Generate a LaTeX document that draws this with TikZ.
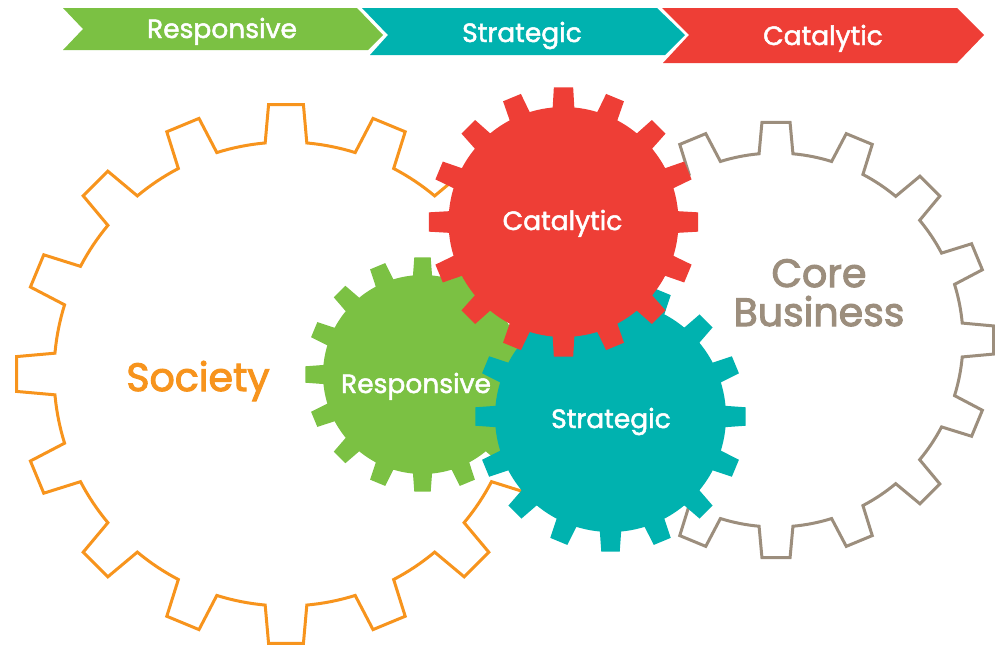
\documentclass[tikz,border=0pt]{standalone}
\usepackage{fontspec}
\setmainfont{Poppins}
\newfontfamily\labelfont{Poppins}[FakeBold=1.8]
\newfontfamily\bigfont{Poppins}[FakeBold=2.6]
\definecolor{cgreen}{HTML}{7BC143}
\definecolor{cteal}{HTML}{00B2AF}
\definecolor{cred}{HTML}{EE3E36}
\definecolor{corange}{HTML}{F7941D}
\definecolor{cgrey}{HTML}{9C8E7D}
\newcommand{\gearpath}[4]{%
  ({-#4}:#2) \foreach \i in {0,...,15}{
    -- ({\i*22.5-#4}:#2) -- ({\i*22.5-#3}:#1) -- ({\i*22.5+#3}:#1) -- ({\i*22.5+#4}:#2)
    \foreach \k in {1,...,7}{ -- ({\i*22.5+#4+\k*(22.5-2*#4)/8}:#2) }
  } -- cycle}
\begin{document}
\begin{tikzpicture}[x=1pt,y=-1pt,
  lbl/.style={text=white, font=\labelfont\fontsize{26.5}{30}\selectfont, anchor=base, inner sep=0pt},
  big/.style={font=\bigfont\fontsize{39.5}{44}\selectfont, anchor=base, inner sep=0pt},
  outlinegear/.style={fill=white, line width=3, line join=miter}]
\useasboundingbox (0,0) rectangle (995,646);
% banner
\fill[cgreen] (63,8) -- (357,8) -- (383,35) -- (368,50) -- (63,50) -- (83,29) -- cycle;
\fill[cteal] (362,8) -- (657,8) -- (685,35) -- (665,55) -- (370,55) -- (388,35) -- cycle;
\fill[cred] (662,8) -- (957,8) -- (984,35) -- (957,63) -- (663,63) -- (689,35) -- cycle;
% gears
\path[outlinegear, draw=corange, shift={(286,374)}] \gearpath{270}{232}{3.7}{5.15};
\path[outlinegear, draw=cgrey, shift={(776,340)}] \gearpath{218}{187}{3.7}{5.2};
\fill[cgreen, shift={(422.5,374.5)}] \gearpath{117.5}{99.5}{4.0}{5.5};
\fill[cteal, shift={(610.5,416.5)}] \gearpath{135.5}{115.5}{3.9}{5.3};
\fill[cred, shift={(563.5,222)}] \gearpath{135}{115}{4.1}{5.4};
% texts
\node[lbl] (bresp) at (222,38) {Responsive};
\node[lbl] (bstrat) at (522,42) {Strategic};
\node[lbl] (bcat) at (823,45) {Catalytic};
\node[lbl] (gcat) at (562.5,230) {Catalytic};
\node[lbl] (gresp) at (416,393) {Responsive};
\node[lbl] (gstrat) at (611,428) {Strategic};
\node[big, text=corange] (soc) at (198,391) {Society};
\node[big, text=cgrey] (core) at (819,287) {Core};
\node[big, text=cgrey] (bus) at (819,326) {Business};
\end{tikzpicture}
\end{document}
